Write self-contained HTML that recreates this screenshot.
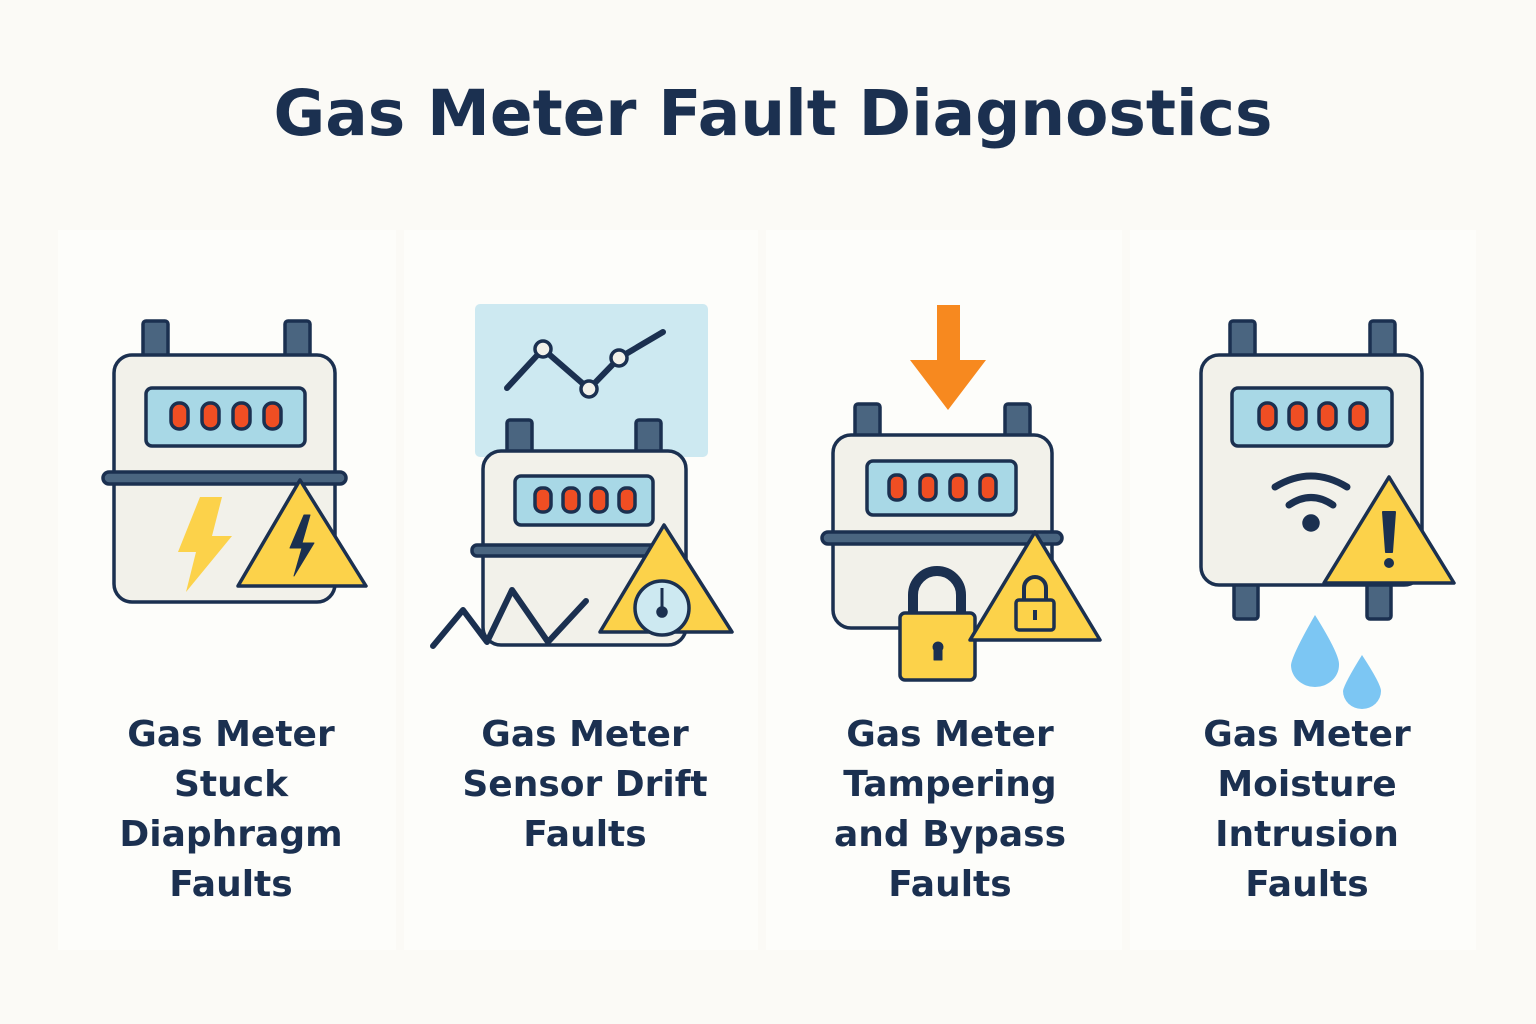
<!DOCTYPE html>
<html><head><meta charset="utf-8"><style>
body{margin:0;width:1536px;height:1024px;background:#fbfaf6;overflow:hidden}
svg{display:block}
text{font-family:"DejaVu Sans","Liberation Sans",sans-serif;font-weight:bold;fill:#1b3050}
</style></head><body>
<svg width="1536" height="1024" viewBox="0 0 1536 1024">
<rect x="58" y="230" width="338" height="720" fill="#fdfdfa"/>
<rect x="404" y="230" width="354" height="720" fill="#fdfdfa"/>
<rect x="766" y="230" width="356" height="720" fill="#fdfdfa"/>
<rect x="1130" y="230" width="346" height="720" fill="#fdfdfa"/>
<text x="773" y="135" font-size="63" text-anchor="middle">Gas Meter Fault Diagnostics</text>
<g stroke="#1b3050" stroke-width="3.5" stroke-linejoin="round">
<!-- meter1 -->
<rect x="143" y="321" width="25" height="36" rx="3" fill="#4a6580"/>
<rect x="285" y="321" width="25" height="36" rx="3" fill="#4a6580"/>
<rect x="114" y="355" width="221" height="247" rx="18" fill="#f2f1ea"/>
<rect x="146" y="388" width="159" height="58" rx="6" fill="#a8d8e6"/>
<g fill="#f04e23"><rect x="171" y="403" width="17" height="26" rx="8"/><rect x="202" y="403" width="17" height="26" rx="8"/><rect x="233" y="403" width="17" height="26" rx="8"/><rect x="264" y="403" width="17" height="26" rx="8"/></g>
<rect x="103" y="472" width="243" height="12" rx="6" fill="#4a6580"/>
<path d="M200 497 L178 552 L196 552 L186 592 L232 536 L212 536 L222 497Z" fill="#fcd24a" stroke="none"/>
<path d="M300 480 L366 586 L238 586Z" fill="#fcd24a"/>
<path d="M304 515 L290 548 L302 548 L294 576 L314 543 L302 543 L310 515Z" fill="#1b3050" stroke-width="1"/>
<!-- meter2 -->
<rect x="475" y="304" width="233" height="153" rx="5" fill="#cde9f1" stroke="none"/>
<polyline points="507,388 543,349 589,389 619,358 663,332" fill="none" stroke-width="6" stroke-linecap="round"/>
<circle cx="543" cy="349" r="8" fill="#f2f1ea"/><circle cx="589" cy="389" r="8" fill="#f2f1ea"/><circle cx="619" cy="358" r="8" fill="#f2f1ea"/>
<rect x="507" y="420" width="25" height="34" rx="3" fill="#4a6580"/>
<rect x="636" y="420" width="25" height="34" rx="3" fill="#4a6580"/>
<rect x="483" y="451" width="203" height="194" rx="18" fill="#f2f1ea"/>
<rect x="515" y="476" width="138" height="49" rx="6" fill="#a8d8e6"/>
<g fill="#f04e23"><rect x="535" y="488" width="16" height="24" rx="7"/><rect x="563" y="488" width="16" height="24" rx="7"/><rect x="591" y="488" width="16" height="24" rx="7"/><rect x="619" y="488" width="16" height="24" rx="7"/></g>
<rect x="472" y="545" width="190" height="11" rx="5" fill="#4a6580"/>
<path d="M664 525 L732 632 L600 632Z" fill="#fcd24a"/>
<circle cx="662" cy="608" r="27" fill="#cde9f1"/>
<line x1="662" y1="588" x2="662" y2="612" stroke-width="3"/><circle cx="662" cy="612" r="4" fill="#1b3050"/>
<polyline points="433,646 463,610 487,642 512,590 548,642 586,601" fill="none" stroke-width="6" stroke-linecap="round"/>
<!-- meter3 -->
<path d="M937 305 L960 305 L960 360 L986 360 L948 410 L910 360 L937 360Z" fill="#f7891f" stroke="none"/>
<rect x="855" y="404" width="25" height="34" rx="3" fill="#4a6580"/>
<rect x="1005" y="404" width="25" height="34" rx="3" fill="#4a6580"/>
<rect x="833" y="435" width="219" height="193" rx="18" fill="#f2f1ea"/>
<rect x="867" y="461" width="149" height="54" rx="6" fill="#a8d8e6"/>
<g fill="#f04e23"><rect x="889" y="475" width="16" height="25" rx="7"/><rect x="920" y="475" width="16" height="25" rx="7"/><rect x="950" y="475" width="16" height="25" rx="7"/><rect x="980" y="475" width="16" height="25" rx="7"/></g>
<rect x="822" y="532" width="240" height="12" rx="6" fill="#4a6580"/>
<path d="M913 616 L913 595 A24 24 0 0 1 961 595 L961 616" fill="none" stroke-width="10"/>
<rect x="900" y="613" width="75" height="67" rx="5" fill="#fcd24a"/>
<path d="M934 650 a5 5 0 1 1 8 0 l0 10 l-8 0Z" fill="#1b3050" stroke-width="1"/>
<path d="M1035 532 L1100 640 L970 640Z" fill="#fcd24a"/>
<path d="M1024 602 L1024 588 A11 11 0 0 1 1046 588 L1046 602" fill="none" stroke-width="4"/>
<rect x="1016" y="600" width="38" height="30" rx="3" fill="#fcd24a"/>
<line x1="1035" y1="610" x2="1035" y2="620" stroke-width="4"/>
<!-- meter4 -->
<rect x="1230" y="321" width="25" height="36" rx="3" fill="#4a6580"/>
<rect x="1370" y="321" width="25" height="36" rx="3" fill="#4a6580"/>
<rect x="1234" y="583" width="24" height="36" rx="3" fill="#4a6580"/>
<rect x="1367" y="583" width="24" height="36" rx="3" fill="#4a6580"/>
<rect x="1201" y="355" width="221" height="230" rx="18" fill="#f2f1ea"/>
<rect x="1232" y="388" width="160" height="58" rx="6" fill="#a8d8e6"/>
<g fill="#f04e23"><rect x="1259" y="403" width="17" height="26" rx="8"/><rect x="1289" y="403" width="17" height="26" rx="8"/><rect x="1319" y="403" width="17" height="26" rx="8"/><rect x="1350" y="403" width="17" height="26" rx="8"/></g>
<path d="M1275 487 Q1311 465 1347 487" fill="none" stroke-width="7" stroke-linecap="round"/>
<path d="M1289 505 Q1311 490 1333 505" fill="none" stroke-width="7" stroke-linecap="round"/>
<circle cx="1311" cy="523" r="7" fill="#1b3050"/>
<path d="M1389 477 L1454 583 L1324 583Z" fill="#fcd24a"/>
<path d="M1383 512 L1395 512 L1392 552 L1386 552Z" fill="#1b3050" stroke-width="2"/>
<circle cx="1389" cy="563" r="5" fill="#1b3050" stroke="none"/>
</g>
<path d="M1315 615 Q1340 655 1339 665 A24 22 0 0 1 1291 665 Q1292 655 1315 615Z" fill="#7cc6f3"/>
<path d="M1362 655 Q1381 684 1381 691 A19 18 0 0 1 1343 691 Q1344 684 1362 655Z" fill="#7cc6f3"/>
<g font-size="36" text-anchor="middle">
<text x="231" y="746">Gas Meter</text><text x="231" y="796">Stuck</text><text x="231" y="846">Diaphragm</text><text x="231" y="896">Faults</text>
<text x="585" y="746">Gas Meter</text><text x="585" y="796">Sensor Drift</text><text x="585" y="846">Faults</text>
<text x="950" y="746">Gas Meter</text><text x="950" y="796">Tampering</text><text x="950" y="846">and Bypass</text><text x="950" y="896">Faults</text>
<text x="1307" y="746">Gas Meter</text><text x="1307" y="796">Moisture</text><text x="1307" y="846">Intrusion</text><text x="1307" y="896">Faults</text>
</g>
</svg>
</body></html>
